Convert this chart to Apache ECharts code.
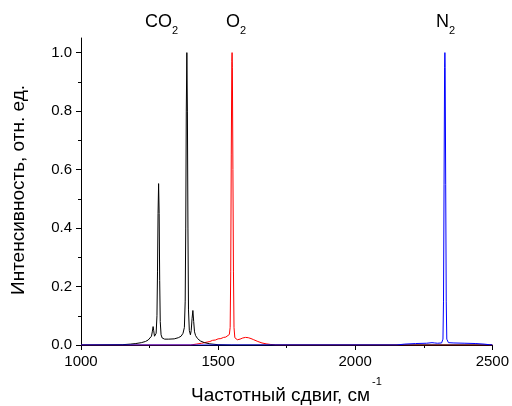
<!DOCTYPE html>
<html>
<head>
<meta charset="utf-8">
<script src="https://cdn.jsdelivr.net/npm/echarts@6/dist/echarts.min.js"></script>
<style>html,body{margin:0;padding:0;background:#fff}#c{width:512px;height:406px}</style>
</head>
<body>
<div id="c"></div>
<script>
// Raman shift (cm^-1), relative intensity
var co2Data = [
  [1000,0],[1150,0.001],[1180,0.003],[1200,0.005],[1220,0.008],[1235,0.012],[1245,0.017],
  [1252,0.022],[1257,0.03],[1260,0.045],[1263,0.063],[1265,0.05],[1268,0.03],[1271,0.028],
  [1274,0.04],[1277,0.1],[1279,0.25],[1281,0.45],[1283,0.552],[1285,0.45],[1287,0.22],
  [1289,0.08],[1292,0.035],[1296,0.024],[1305,0.02],[1320,0.02],[1340,0.021],[1355,0.025],
  [1365,0.03],[1372,0.04],[1377,0.06],[1380,0.15],[1382,0.4],[1384,0.8],[1386,1.0],
  [1388,0.8],[1390,0.4],[1392,0.12],[1395,0.05],[1399,0.035],[1402,0.05],[1405,0.09],
  [1408,0.118],[1411,0.08],[1414,0.045],[1418,0.032],[1425,0.022],[1435,0.014],[1450,0.008],
  [1470,0.004],[1500,0.001],[1550,0],[2500,0]
];
var o2Data = [
  [1000,0],[1400,0],[1420,0.003],[1440,0.006],[1460,0.01],[1470,0.012],[1480,0.016],[1490,0.017],
  [1500,0.021],[1510,0.022],[1520,0.026],[1528,0.027],[1535,0.031],[1541,0.036],[1544,0.06],
  [1546,0.25],[1548,0.65],[1550,0.97],[1551,1.0],[1552,0.95],[1554,0.6],[1556,0.25],[1558,0.06],
  [1561,0.025],[1570,0.018],[1580,0.02],[1590,0.024],[1600,0.026],[1610,0.025],[1620,0.022],
  [1630,0.018],[1645,0.012],[1660,0.007],[1675,0.004],[1690,0.002],[1710,0],[2500,0]
];
var n2Data = [
  [1000,0],[2150,0],[2180,0.003],[2220,0.005],[2260,0.006],[2280,0.008],[2286,0.012],
  [2290,0.007],[2300,0.006],[2315,0.007],[2320,0.02],[2322,0.15],[2324,0.55],[2326,0.95],
  [2327,1.0],[2328,0.95],[2330,0.55],[2332,0.15],[2334,0.02],[2340,0.008],[2360,0.007],
  [2400,0.006],[2440,0.005],[2470,0.003],[2490,0.001],[2500,0]
];
var yMajorTicks = [0, 0.2, 0.4, 0.6, 0.8, 1.0];
var yMinorTicks = [0.1, 0.3, 0.5, 0.7, 0.9];

var FONT = 'Liberation Sans, Arial, sans-serif';
var chart = echarts.init(document.getElementById('c'), null, {renderer: 'canvas'});

function lineSeries(name, data, color, z) {
  return {
    name: name, type: 'line', data: data, showSymbol: false, symbol: 'none',
    lineStyle: {color: color, width: 1}, itemStyle: {color: color},
    animation: false, yAxisIndex: 0, z: z
  };
}

var option = {
  animation: false,
  backgroundColor: '#fff',
  grid: {left: 81, right: 19, top: 38, bottom: 61, containLabel: false},
  xAxis: {
    type: 'value', min: 1000, max: 2500, interval: 500,
    axisLine: {lineStyle: {color: '#000', width: 1}},
    axisTick: {length: 5, lineStyle: {color: '#000'}},
    minorTick: {show: true, splitNumber: 2, length: 3, lineStyle: {color: '#000'}},
    splitLine: {show: false},
    axisLabel: {color: '#000', fontSize: 15, fontFamily: FONT, margin: 9,
      formatter: function (v) { return String(v); }}
  },
  yAxis: [{
    type: 'value', min: 0, max: 1.05, position: 'left',
    axisLine: {show: true, lineStyle: {color: '#000', width: 1}},
    axisTick: {show: true, length: 5, customValues: yMajorTicks, lineStyle: {color: '#000'}},
    splitLine: {show: false},
    axisLabel: {color: '#000', fontSize: 15, fontFamily: FONT, margin: 9,
      customValues: yMajorTicks,
      formatter: function (v) { return v.toFixed(1); }}
  }, {
    type: 'value', min: 0, max: 1.05, position: 'left', offset: 0,
    axisLine: {show: false},
    axisTick: {show: true, length: 3, customValues: yMinorTicks, lineStyle: {color: '#000'}},
    splitLine: {show: false},
    axisLabel: {show: false}
  }],
  series: [
    lineSeries('CO2', co2Data, '#000000', 3),
    lineSeries('O2', o2Data, '#ff0000', 2),
    lineSeries('N2', n2Data, '#0000ff', 4)
  ],
  graphic: [
    {type: 'text', left: 145, top: 13, style: {text: 'CO', font: '18px ' + FONT, fill: '#000'}},
    {type: 'text', left: 172, top: 25, style: {text: '2', font: '11px ' + FONT, fill: '#000'}},
    {type: 'text', left: 226, top: 13, style: {text: 'O', font: '18px ' + FONT, fill: '#000'}},
    {type: 'text', left: 240, top: 25, style: {text: '2', font: '11px ' + FONT, fill: '#000'}},
    {type: 'text', left: 436, top: 13, style: {text: 'N', font: '18px ' + FONT, fill: '#000'}},
    {type: 'text', left: 449, top: 25, style: {text: '2', font: '11px ' + FONT, fill: '#000'}},
    {type: 'text', left: 191, top: 386, style: {text: 'Частотный сдвиг, см', font: '19px ' + FONT, fill: '#000'}},
    {type: 'text', left: 372, top: 376, style: {text: '-1', font: '11px ' + FONT, fill: '#000'}},
    {type: 'text', x: 19, y: 190, rotation: Math.PI / 2,
      style: {text: 'Интенсивность, отн. ед.', font: '19px ' + FONT, fill: '#000',
        textAlign: 'center', textVerticalAlign: 'middle'}}
  ]
};
chart.setOption(option);
</script>
</body>
</html>
